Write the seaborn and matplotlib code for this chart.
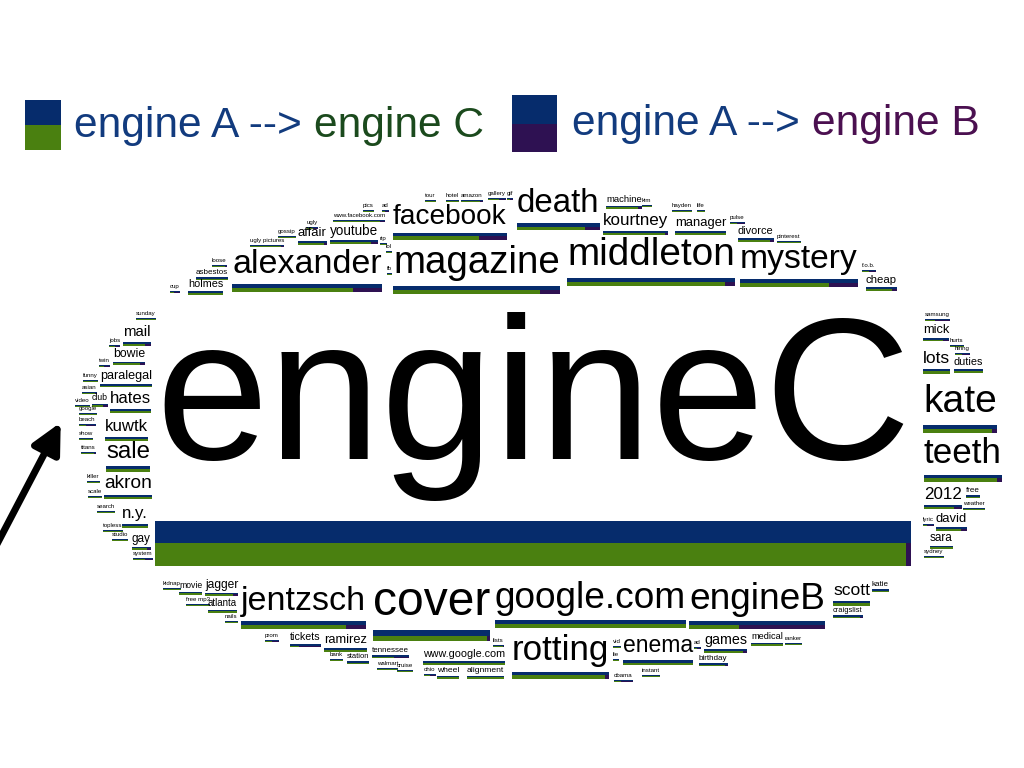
import matplotlib
matplotlib.use("Agg")
import matplotlib.pyplot as plt
import seaborn as sns

sns.set_theme(style="white")
plt.rcParams["font.family"] = ["Liberation Sans", "DejaVu Sans"]

# engine A (top half), engine C / engine B (bottom half)
navy, green, purple = sns.color_palette(["#062c6c", "#4a8010", "#2e1152"])

# words, font size (px em) and share of the bottom bar that goes to engine C
words = ["engineC", "magazine", "middleton", "alexander", "mystery", "death", "facebook",
         "kourtney", "manager", "youtube", "affair", "divorce", "machine", "cheap", "holmes", "asbestos",
         "mail", "bowie", "paralegal", "club", "hates", "kuwtk", "sale", "akron", "n.y.", "gay",
         "mick", "lots", "duties", "kate", "teeth", "2012", "free", "david", "sara",
         "jentzsch", "cover", "google.com", "engineB", "scott", "rotting", "enema", "games",
         "medical", "birthday", "ramirez", "tickets", "www.google.com", "tennessee", "alignment",
         "wheel", "station", "atlanta", "jagger", "movie", "katie", "craigslist"]
sizes = [203, 38.5, 38.8, 34, 33.7, 33, 28,
         17, 13, 13.5, 13, 11, 9.5, 11.4, 10.9, 8,
         15, 12.3, 12.6, 8.7, 16.8, 16.8, 24, 19.2, 16.9, 11.8,
         12.7, 17.4, 10.9, 39, 35, 17, 8, 13, 11.8,
         34, 48, 37, 37, 17.5, 35, 22.9, 14.3,
         9.3, 8, 12.9, 10.6, 10.8, 8, 8.5,
         8.5, 7.5, 9.7, 12, 8.6, 8, 7.5]
c_share = [0.993, 0.88, 0.94, 0.81, 0.76, 0.82, 0.76,
           0.95, 1.0, 0.85, 0.9, 0.9, 0.9, 0.85, 1.0, 1.0,
           0.8, 0.85, 1.0, 0.7, 1.0, 1.0, 1.0, 1.0, 1.0, 0.8,
           0.75, 1.0, 1.0, 0.93, 0.94, 0.8, 1.0, 0.8, 1.0,
           0.84, 0.97, 1.0, 0.37, 1.0, 0.95, 1.0, 0.9,
           1.0, 0.9, 1.0, 0.3, 1.0, 0.6, 1.0,
           1.0, 1.0, 1.0, 0.85, 1.0, 1.0, 0.9]
# cloud layout: left edge and text baseline in pixels
x_left = [155, 393, 567, 232, 740, 517, 393,
          603, 675, 330, 298, 738, 606, 866, 188, 196,
          123, 113, 100, 92, 110, 105, 106, 104, 122, 132,
          923, 923, 954, 923, 924, 924, 966, 936, 930,
          241, 373, 495, 689, 833, 512, 623, 704,
          751, 699, 324, 290, 423, 372, 467,
          437, 347, 208, 205, 179, 872, 833]
baseline = [459, 273, 265, 273, 268, 212, 224,
            225, 226, 235, 236, 234, 202, 283, 287, 274,
            336, 357, 379, 400, 403, 431, 458, 488, 518, 542,
            333, 363, 365, 412, 463, 499, 492, 522, 541,
            610, 615, 608, 609, 595, 660, 652, 644,
            639, 660, 643, 640, 657, 652, 672,
            672, 658, 606, 588, 588, 586, 612]

# the tiny words around the edge of the cloud
tiny_words = ["cup", "loose", "ugly pictures", "gossip", "ugly", "www.facebook.com", "pics", "ad", "rip",
              "lol", "fb", "tour", "hotel", "amazon", "gallery", "gif", "kim", "hayden", "life",
              "pulse", "pinterest", "f.o.b.",
              "sunday", "jobs", "twin", "funny", "asian", "video", "google", "beach", "show",
              "titans", "killer", "scale", "search", "topless", "studio", "system",
              "samsung", "hurts", "hiring", "weather", "lyric", "sydney",
              "kidnap", "free mp3", "nails", "prom", "lists", "bank", "walmart", "cruise", "ohio",
              "vid", "lie", "ad", "ranker", "obama", "instant"]
tiny_share = [0.4, 0.9, 0.9, 1.0, 0.5, 0.9, 1.0, 0.5, 1.0,
              0.9, 1.0, 1.0, 1.0, 0.9, 0.6, 0.5, 1.0, 1.0, 1.0,
              0.5, 1.0, 0.5,
              1.0, 0.5, 0.5, 1.0, 0.9, 1.0, 1.0, 0.4, 1.0,
              0.9, 1.0, 1.0, 1.0, 1.0, 1.0, 0.6,
              0.4, 1.0, 0.5, 1.0, 0.4, 1.0,
              1.0, 1.0, 1.0, 0.5, 0.9, 1.0, 1.0, 1.0, 0.5,
              1.0, 1.0, 0.5, 1.0, 0.4, 1.0]
tiny_x = [170, 212, 250, 278, 307, 333, 363, 382, 380,
          386, 387, 425, 446, 461, 488, 507, 642, 672, 697,
          730, 777, 862,
          136, 109, 99, 83, 82, 75, 79, 79, 79,
          81, 87, 88, 97, 103, 112, 133,
          925, 950, 955, 963, 923, 924,
          163, 186, 225, 265, 493, 330, 377, 397, 424,
          613, 613, 694, 785, 614, 642]
tiny_y = [288, 262, 242, 233, 224, 217, 207, 207, 240,
          248, 270, 197, 197, 197, 195, 195, 202, 207, 207,
          219, 238, 267,
          315, 342, 362, 377, 389, 402, 410, 421, 435,
          449, 478, 493, 508, 527, 536, 555,
          316, 342, 350, 505, 521, 553,
          585, 601, 618, 637, 642, 656, 665, 667, 671,
          643, 656, 644, 640, 677, 672]

all_words = words + tiny_words
all_sizes = sizes + [6.2] * len(tiny_words)
all_share = c_share + tiny_share
all_x = x_left + tiny_x
all_y = baseline + tiny_y

fig = plt.figure(figsize=(10.24, 7.68), dpi=100)
ax = fig.add_axes([0, 0, 1, 1])
ax.set_xlim(0, 1024)
ax.set_ylim(768, 0)
ax.axis("off")

texts = []
for w, s, x, y in zip(all_words, all_sizes, all_x, all_y):
    texts.append(ax.text(x, y, w, fontsize=s * 0.72, va="baseline", ha="left", color="black"))

fig.canvas.draw()
renderer = fig.canvas.get_renderer()

bar_l, bar_w, bar_top, bar_h = [], [], [], []
bot_c, bot_b = [], []
for t, s, x, y, sh in zip(texts, all_sizes, all_x, all_y, all_share):
    width = t.get_window_extent(renderer).width
    h = max(0.22 * s, 0.16 * s + 1.6)
    bar_l.append(x)
    bar_w.append(width)
    bar_top.append(y + 0.3 * s + 1)
    bar_h.append(h)
    bot_c.append(width * sh)
    bot_b.append(width * (1 - sh))

# full bar in navy, then the lower half split into engine C / engine B
ax.barh(bar_top, bar_w, left=bar_l, height=bar_h, color=navy, align="edge", linewidth=0)
low_y = [t + h / 2 for t, h in zip(bar_top, bar_h)]
low_h = [h / 2 for h in bar_h]
ax.barh(low_y, bot_c, left=bar_l, height=low_h, color=green, align="edge", linewidth=0)
ax.barh(low_y, bot_b, left=[l + c for l, c in zip(bar_l, bot_c)], height=low_h,
        color=purple, align="edge", linewidth=0)

# legend
ax.barh([100], [36], left=[25], height=50, color=navy, align="edge", linewidth=0)
ax.barh([125], [36], left=[25], height=25, color=green, align="edge", linewidth=0)
ax.barh([95], [45], left=[512], height=57, color=navy, align="edge", linewidth=0)
ax.barh([124], [45], left=[512], height=28, color=purple, align="edge", linewidth=0)

leg_size = 42.5 * 0.72
t1 = ax.text(74, 137, "engine A --> ", fontsize=leg_size, color="#123b7e", va="baseline")
t2 = ax.text(572, 135, "engine A --> ", fontsize=leg_size, color="#123b7e", va="baseline")
fig.canvas.draw()
w1 = t1.get_window_extent(renderer).width
w2 = t2.get_window_extent(renderer).width
ax.text(74 + w1, 137, "engine C", fontsize=leg_size, color="#1b4a1d", va="baseline")
ax.text(572 + w2, 135, "engine B", fontsize=leg_size, color="#4b1050", va="baseline")

# arrow pointing at the cloud
ax.annotate("", xy=(62, 420), xytext=(-5, 548),
            arrowprops=dict(arrowstyle="-|>", color="black", lw=5, mutation_scale=45))

fig.savefig("out.png", dpi=100)
